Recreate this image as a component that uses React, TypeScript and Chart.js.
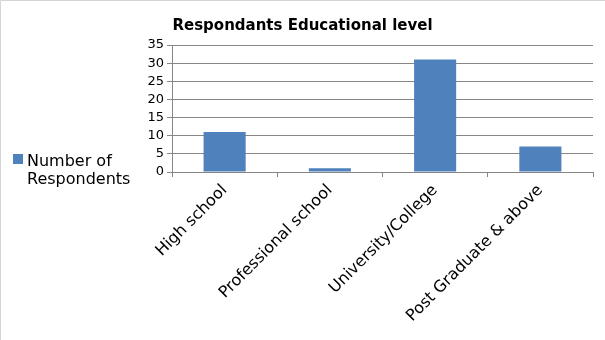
import React, { useEffect, useRef } from "react";
import { Chart, registerables } from "chart.js";

Chart.register(...registerables);

const categories = ["High school", "Professional school", "University/College", "Post Graduate & above"];
const respondents = [11, 1, 31, 7];
const seriesName = ["Number of", "Respondents"];
const chartTitle = "Respondants Educational level";
const yMax = 35;
const yStep = 5;

const BAR = "#4F81BD";
const GRID = "#868686";
const FONT = "'DejaVu Sans', sans-serif";

const decorPlugin = {
  id: "decor",
  beforeDraw(chart: any) {
    const ctx = chart.ctx;
    ctx.save();
    ctx.fillStyle = "#ffffff";
    ctx.fillRect(0, 0, chart.width, chart.height);
    ctx.strokeStyle = "#d4d4d4";
    ctx.lineWidth = 1;
    ctx.beginPath();
    ctx.moveTo(0.5, chart.height);
    ctx.lineTo(0.5, 0.5);
    ctx.lineTo(chart.width, 0.5);
    ctx.stroke();
    ctx.restore();
  },
  afterDraw(chart: any) {
    const ctx = chart.ctx;
    ctx.save();
    ctx.fillStyle = "#000";
    ctx.font = `bold 15px ${FONT}`;
    ctx.textAlign = "center";
    ctx.textBaseline = "alphabetic";
    ctx.fillText(chartTitle, chart.width / 2, 30);
    ctx.fillStyle = BAR;
    ctx.fillRect(13, 154, 10, 10);
    ctx.fillStyle = "#000";
    ctx.font = `16px ${FONT}`;
    ctx.textAlign = "left";
    ctx.fillText(seriesName[0], 27, 166);
    ctx.fillText(seriesName[1], 27, 184);
    ctx.restore();
  },
};

export default function App() {
  const ref = useRef<HTMLCanvasElement>(null);
  useEffect(() => {
    const chart = new Chart(ref.current!, {
      type: "bar",
      data: {
        labels: categories,
        datasets: [
          {
            label: seriesName.join(" "),
            data: respondents,
            backgroundColor: BAR,
            borderWidth: 0,
            inflateAmount: 0,
            categoryPercentage: 1,
            barPercentage: 0.4,
          },
        ],
      },
      options: {
        animation: false,
        responsive: false,
        layout: { padding: { left: 140, right: 12, top: 45, bottom: 0 } },
        plugins: { legend: { display: false }, title: { display: false }, tooltip: { enabled: false } },
        scales: {
          x: {
            offset: true,
            grid: { display: true, drawOnChartArea: false, drawTicks: true, tickLength: 5, color: GRID, offset: true },
            border: { display: true, color: GRID, width: 1 },
            ticks: {
              color: "#000",
              font: { family: FONT, size: 16 },
              maxRotation: 45,
              minRotation: 45,
              autoSkip: false,
              padding: 4,
            },
            afterFit(scale: any) {
              scale.height = 168;
            },
          },
          y: {
            min: 0,
            max: yMax,
            ticks: { stepSize: yStep, autoSkip: false, color: "#000", font: { family: FONT, size: 13 }, padding: 3 },
            grid: { color: GRID, drawTicks: true, tickLength: 5 },
            border: { display: true, color: GRID },
            afterFit(scale: any) {
              scale.width = 32;
            },
          },
        },
      },
      plugins: [decorPlugin],
    });
    return () => chart.destroy();
  }, []);
  return (
    <div style={{ position: "fixed", left: 0, top: 0, width: 605, height: 340, background: "#fff" }}>
      <canvas ref={ref} width={605} height={340} style={{ display: "block" }} />
    </div>
  );
}
